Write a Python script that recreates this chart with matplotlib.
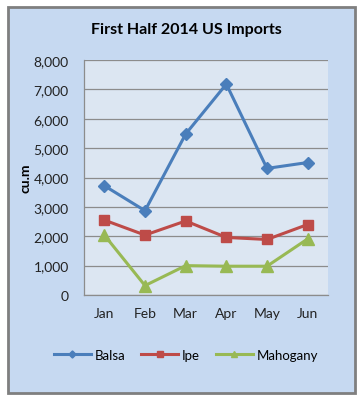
import matplotlib.pyplot as plt
from matplotlib.patches import Rectangle

months = ['Jan', 'Feb', 'Mar', 'Apr', 'May', 'Jun']
balsa = [3720, 2870, 5480, 7180, 4310, 4510]
ipe = [2550, 2040, 2520, 1960, 1890, 2400]
mahogany = [2040, 320, 1000, 980, 980, 1910]

plt.rcParams['font.family'] = ['Lato', 'DejaVu Sans']

W, H = 364, 402
fig = plt.figure(figsize=(W / 100, H / 100), dpi=100)
fig.patch.set_facecolor('white')

# chart area with gray frame, kept behind the axes
fig.patches.append(Rectangle((8 / W, 1 - 394 / H), 347 / W, 386 / H,
                             transform=fig.transFigure, facecolor='#C6D9F1',
                             edgecolor='#7F7F7F', linewidth=2, zorder=-1))

ax = fig.add_axes([84 / W, 1 - 296 / H, 244 / W, 235 / H])
ax.set_facecolor('#DCE6F2')

x = range(len(months))
ax.plot(x, balsa, color='#4A7EBB', lw=2.2, marker='D', ms=6, label='Balsa')
ax.plot(x, ipe, color='#BE4B48', lw=2.2, marker='s', ms=7, label='Ipe')
ax.plot(x, mahogany, color='#98B954', lw=2.2, marker='^', ms=8, label='Mahogany')

ax.set_xlim(-0.5, 5.5)
ax.set_ylim(0, 8000)
ax.set_yticks(range(0, 8001, 1000))
ax.set_yticklabels(['{:,}'.format(v) for v in range(0, 8001, 1000)])
ax.set_xticks(list(x))
ax.set_xticklabels(months)
ax.tick_params(length=0, labelsize=10, colors='#222222', pad=9)
ax.tick_params(axis='y', pad=11)
ax.grid(axis='y', color='#8C8C8C', lw=0.9)
ax.set_axisbelow(True)
for s in ['top', 'right']:
    ax.spines[s].set_visible(False)
for s in ['left', 'bottom']:
    ax.spines[s].set_color('#8C8C8C')
    ax.spines[s].set_linewidth(0.9)

ax.set_ylabel('cu.m', fontsize=10, fontweight='bold')
ax.yaxis.set_label_coords(-0.215, 0.5)
fig.text(186 / W, 1 - 30 / H, 'First Half 2014 US Imports', ha='center',
         va='center', fontsize=11.5, fontweight='bold')

fig.legend(loc='center', bbox_to_anchor=(186 / W, 1 - 356 / H), ncol=3,
           frameon=False, fontsize=9.5, markerscale=0.6, handlelength=2.8,
           columnspacing=1.2, handletextpad=0.3)

fig.savefig('out.png', dpi=100)
